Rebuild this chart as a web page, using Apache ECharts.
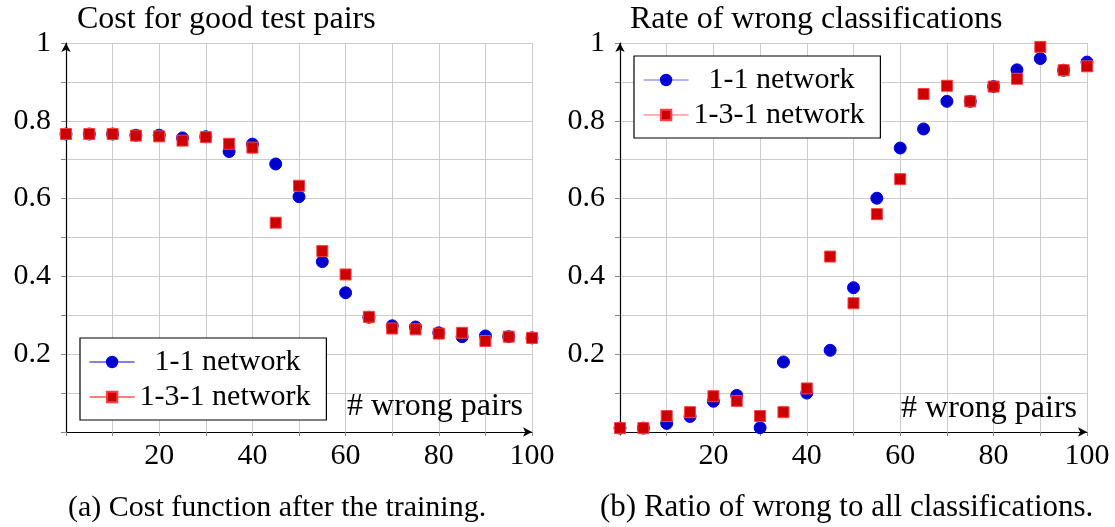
<!DOCTYPE html>
<html>
<head>
<meta charset="utf-8">
<script src="https://cdn.jsdelivr.net/npm/echarts@6/dist/echarts.min.js"></script>
<style>
  html, body { margin: 0; padding: 0; background: #fff; }
</style>
</head>
<body>
<div id="chart" style="width: 1115px; height: 527px;"></div>
<script>
// number of wrong pairs (x positions of every point)
const wrongPairs = [0, 5, 10, 15, 20, 25, 30, 35, 40, 45, 50, 55, 60, 65, 70, 75, 80, 85, 90, 95, 100];

// (a) cost for good test pairs
const cost11 = [0.766, 0.766, 0.766, 0.763, 0.763, 0.756, 0.759, 0.721, 0.740, 0.689, 0.605, 0.438, 0.358, 0.295, 0.273, 0.270, 0.255, 0.245, 0.247, 0.245, 0.242];
const cost131 = [0.766, 0.766, 0.766, 0.762, 0.760, 0.749, 0.758, 0.741, 0.731, 0.538, 0.633, 0.465, 0.405, 0.296, 0.266, 0.264, 0.253, 0.255, 0.234, 0.245, 0.242];

// (b) rate of wrong classifications
const rate11 = [0.010, 0.010, 0.022, 0.040, 0.079, 0.094, 0.011, 0.180, 0.100, 0.210, 0.371, 0.601, 0.730, 0.779, 0.850, 0.850, 0.888, 0.931, 0.960, 0.930, 0.951];
const rate131 = [0.010, 0.010, 0.041, 0.051, 0.092, 0.080, 0.041, 0.051, 0.112, 0.451, 0.331, 0.560, 0.650, 0.869, 0.890, 0.850, 0.888, 0.908, 0.990, 0.930, 0.940];

// tick labels that are shown
const xTickLabels = ['20', '40', '60', '80', '100'];
const yTickLabels = ['0.2', '0.4', '0.6', '0.8', '1'];

const seriesNames = ['1-1 network', '1-3-1 network'];
const titles = ['Cost for good test pairs', 'Rate of wrong classifications'];
const captions = ['(a) Cost function after the training.', '(b) Ratio of wrong to all classifications.'];
const xLabel = '# wrong pairs';

const FONT = 'Liberation Serif';
const FS = 30;

const chart = echarts.init(document.getElementById('chart'));

function pairUp(ys) {
  return wrongPairs.map((x, i) => [x, ys[i]]);
}

function makeX(gridIndex) {
  return {
    type: 'value',
    gridIndex: gridIndex,
    min: 0,
    max: 100,
    interval: 10,
    axisLine: {
      show: true,
      symbol: ['none', 'arrow'],
      symbolSize: [7, 9],
      lineStyle: { color: '#000', width: 1.2 }
    },
    axisTick: { show: true, length: 4, lineStyle: { color: '#888' } },
    axisLabel: {
      margin: 9,
      color: '#000',
      fontFamily: FONT,
      fontSize: FS,
      formatter: v => (xTickLabels.indexOf(String(v)) >= 0 ? String(v) : '')
    },
    splitLine: { show: true, lineStyle: { color: '#cbcbcb', width: 1 } }
  };
}

function makeY(gridIndex) {
  return {
    type: 'value',
    gridIndex: gridIndex,
    min: 0,
    max: 1,
    interval: 0.1,
    axisLine: {
      show: true,
      symbol: ['none', 'arrow'],
      symbolSize: [7, 9],
      lineStyle: { color: '#000', width: 1.2 }
    },
    axisTick: { show: true, length: 5, lineStyle: { color: '#888' } },
    axisLabel: {
      margin: 15,
      color: '#000',
      fontFamily: FONT,
      fontSize: FS,
      formatter: v => {
        const s = String(Math.round(v * 10) / 10);
        return yTickLabels.indexOf(s) >= 0 ? s : '';
      }
    },
    splitLine: { show: true, lineStyle: { color: '#cbcbcb', width: 1 } }
  };
}

// only marks, no connecting line
function blueSeries(idx, ys) {
  return {
    name: seriesNames[0],
    type: 'line',
    xAxisIndex: idx,
    yAxisIndex: idx,
    data: pairUp(ys),
    symbol: 'circle',
    symbolSize: 12,
    clip: false,
    lineStyle: { width: 0, color: '#0000ff' },
    itemStyle: { color: '#0000cc', borderColor: '#0000ee', borderWidth: 1 },
    z: 3
  };
}

function redSeries(idx, ys) {
  return {
    name: seriesNames[1],
    type: 'line',
    xAxisIndex: idx,
    yAxisIndex: idx,
    data: pairUp(ys),
    symbol: 'rect',
    symbolSize: 11,
    clip: false,
    lineStyle: { width: 0, color: '#ff0000' },
    itemStyle: { color: '#cc0000', borderColor: '#ff4040', borderWidth: 1 },
    z: 4
  };
}

function makeLegend(left, top, lineOpacity) {
  return {
    orient: 'vertical',
    left: left,
    top: top,
    data: seriesNames,
    itemWidth: 45,
    itemHeight: 13,
    itemGap: 5,
    padding: [9, 16, 8, 9],
    backgroundColor: '#fff',
    borderColor: '#000',
    borderWidth: 1.2,
    borderRadius: 0,
    selectedMode: false,
    lineStyle: { width: 1.2, opacity: lineOpacity },
    formatter: name => (name === seriesNames[0] ? '  ' + name : name),
    textStyle: { color: '#000', fontFamily: FONT, fontSize: FS }
  };
}

const option = {
  backgroundColor: '#fff',
  animation: false,
  title: [
    { text: titles[0], left: 72, top: -1, textStyle: { fontFamily: FONT, fontSize: 32, fontWeight: 'normal', color: '#000' } },
    { text: titles[1], left: 625, top: -1, textStyle: { fontFamily: FONT, fontSize: 32, fontWeight: 'normal', color: '#000' } },
    { text: captions[0], left: 63, top: 488, textStyle: { fontFamily: FONT, fontSize: FS, fontWeight: 'normal', color: '#000' } },
    { text: captions[1], left: 595, top: 487, textStyle: { fontFamily: FONT, fontSize: 31, fontWeight: 'normal', color: '#000' } }
  ],
  grid: [
    { left: 66, right: 583, top: 43, bottom: 95 },
    { left: 620, right: 28, top: 43, bottom: 95 }
  ],
  xAxis: [makeX(0), makeX(1)],
  yAxis: [makeY(0), makeY(1)],
  legend: [makeLegend(80, 338, 1), makeLegend(634, 56, 0.6)],
  graphic: [
    { type: 'text', x: 523, y: 407, z: 10, style: { text: xLabel, align: 'right', verticalAlign: 'middle', font: '32px "' + FONT + '"', fill: '#000' } },
    { type: 'text', x: 1077, y: 409, z: 10, style: { text: xLabel, align: 'right', verticalAlign: 'middle', font: '32px "' + FONT + '"', fill: '#000' } }
  ],
  series: [
    blueSeries(0, cost11),
    redSeries(0, cost131),
    blueSeries(1, rate11),
    redSeries(1, rate131)
  ]
};

chart.setOption(option);
</script>
</body>
</html>
